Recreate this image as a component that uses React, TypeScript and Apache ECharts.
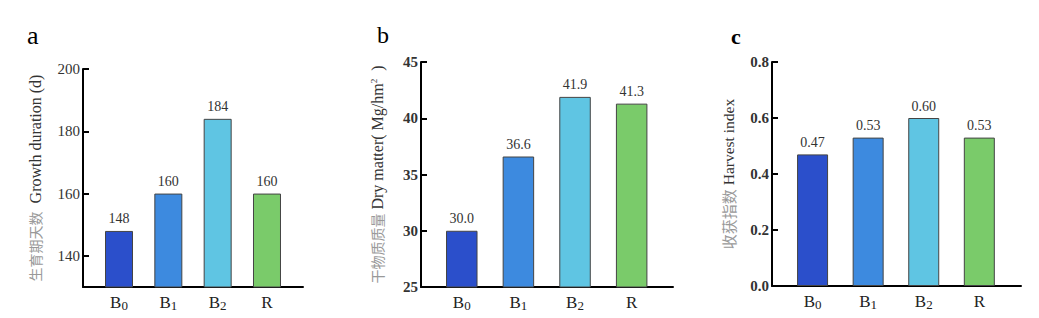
import React, { useEffect, useRef } from "react";
import * as echarts from "echarts";

const categories = ["B0", "B1", "B2", "R"];
const growthDuration = [148, 160, 184, 160];
const dryMatter = [30.0, 36.6, 41.9, 41.3];
const harvestIndex = [0.47, 0.53, 0.6, 0.53];
const growthTicks = [140, 160, 180, 200];
const barColors = ["#2b4fcb", "#3d8adf", "#5fc5e3", "#7acb6a"];

const SERIF = "'Liberation Serif', 'Times New Roman', serif";
const CJK = "'Noto Sans CJK SC', sans-serif";

function catLabel(v: number) {
  const name = categories[Math.round(v)];
  if (!name) return "";
  if (name.length === 2 && /\d/.test(name[1])) {
    return `{b|${name[0]}}{s|${name[1]}}`;
  }
  return `{b|${name}}`;
}

const xRich = {
  b: { fontSize: 17, lineHeight: 20, fontFamily: SERIF, color: "#222", verticalAlign: "middle" },
  s: { fontSize: 13, lineHeight: 13, fontFamily: SERIF, color: "#222", verticalAlign: "bottom" },
};

export default function App() {
  const ref = useRef<HTMLDivElement>(null);
  useEffect(() => {
    if (!ref.current) return;
    const chart = echarts.init(ref.current, undefined, { renderer: "svg" });
    const grids = [
      { left: 83, width: 220, top: 69, bottom: 31 },
      { left: 421, width: 252, top: 62, bottom: 31 },
      { left: 772, width: 249, top: 62, bottom: 32 },
    ];
    const xRanges = [
      [-0.73, 3.73],
      [-0.72, 3.73],
      [-0.73, 3.75],
    ];
    const xAxis = grids.map((_, i) => ({
      type: "value",
      gridIndex: i,
      min: xRanges[i][0],
      max: xRanges[i][1],
      splitLine: { show: false },
      axisLine: { show: true, onZero: false, lineStyle: { color: "#000", width: 2 } },
      axisTick: { show: true, inside: true, length: 4, customValues: [0, 1, 2, 3], lineStyle: { color: "#000", width: 2 } },
      axisLabel: {
        show: true,
        customValues: [0, 1, 2, 3],
        formatter: (v: number) => catLabel(v),
        rich: xRich,
        margin: 5,
      },
    }));
    const axisLine = { show: true, onZero: false, lineStyle: { color: "#000", width: 2 } };
    const yLabelBase = { fontSize: 15, fontFamily: SERIF, color: "#333", margin: 3 };
    const yAxis = [
      {
        type: "value",
        gridIndex: 0,
        min: 130,
        max: 200,
        splitLine: { show: false },
        axisLine,
        axisTick: { show: true, inside: true, length: 6, customValues: growthTicks, lineStyle: { color: "#000", width: 2 } },
        axisLabel: { ...yLabelBase, customValues: growthTicks },
        name: "{cn|生育期天数}{en|  Growth duration (d)}",
        nameLocation: "middle",
        nameGap: 40,
        nameTextStyle: {
          rich: {
            cn: { fontSize: 14, fontFamily: CJK, color: "#999" },
            en: { fontSize: 16, fontFamily: SERIF, color: "#333" },
          },
        },
      },
      {
        type: "value",
        gridIndex: 1,
        min: 25,
        max: 45,
        interval: 5,
        splitLine: { show: false },
        axisLine,
        axisTick: { show: true, inside: true, length: 6, lineStyle: { color: "#000", width: 2 } },
        axisLabel: { ...yLabelBase, fontWeight: "bold" },
        name: "{cn|干物质质量}{en| Dry matter( Mg/hm}{sup|2}{en|  )}",
        nameLocation: "middle",
        nameGap: 36,
        nameTextStyle: {
          rich: {
            cn: { fontSize: 14, fontFamily: CJK, color: "#999" },
            en: { fontSize: 16, fontFamily: SERIF, color: "#333" },
            sup: { fontSize: 9, fontFamily: SERIF, color: "#333", verticalAlign: "top", lineHeight: 9 },
          },
        },
      },
      {
        type: "value",
        gridIndex: 2,
        min: 0,
        max: 0.8,
        interval: 0.2,
        splitLine: { show: false },
        axisLine,
        axisTick: { show: true, inside: true, length: 6, lineStyle: { color: "#000", width: 2 } },
        axisLabel: { ...yLabelBase, fontWeight: "bold", formatter: (v: number) => v.toFixed(1) },
        name: "{cn|收获指数}{en| Harvest index}",
        nameLocation: "middle",
        nameGap: 36,
        nameTextStyle: {
          rich: {
            cn: { fontSize: 15, fontFamily: CJK, color: "#999" },
            en: { fontSize: 15.5, fontFamily: SERIF, color: "#333" },
          },
        },
      },
    ];
    const datasets = [growthDuration, dryMatter, harvestIndex];
    const decimals = [0, 1, 2];
    const widths = [28, 31.5, 31];
    const series = datasets.map((vals, i) => ({
      type: "bar",
      xAxisIndex: i,
      yAxisIndex: i,
      barWidth: widths[i],
      data: vals.map((v, j) => ({
        value: [j, v],
        itemStyle: { color: barColors[j], borderColor: "#444", borderWidth: 1 },
      })),
      label: {
        show: true,
        position: "top",
        distance: 5,
        fontSize: 14,
        fontFamily: SERIF,
        color: "#333",
        formatter: (p: any) => Number(p.value[1]).toFixed(decimals[i]),
      },
    }));
    chart.setOption({
      animation: false,
      backgroundColor: "#fff",
      grid: grids,
      xAxis,
      yAxis,
      series,
      graphic: [
        { type: "text", left: 27, top: 22, style: { text: "a", fontSize: 26, fontFamily: SERIF, fill: "#000" } },
        { type: "text", left: 377, top: 23, style: { text: "b", fontSize: 24, fontFamily: SERIF, fill: "#000" } },
        { type: "text", left: 731, top: 25, style: { text: "c", fontSize: 22, fontWeight: "bold", fontFamily: SERIF, fill: "#000" } },
      ],
    });
    return () => chart.dispose();
  }, []);
  return (
    <div
      ref={ref}
      style={{ position: "absolute", left: 0, top: 0, width: 1039, height: 318 }}
    />
  );
}
